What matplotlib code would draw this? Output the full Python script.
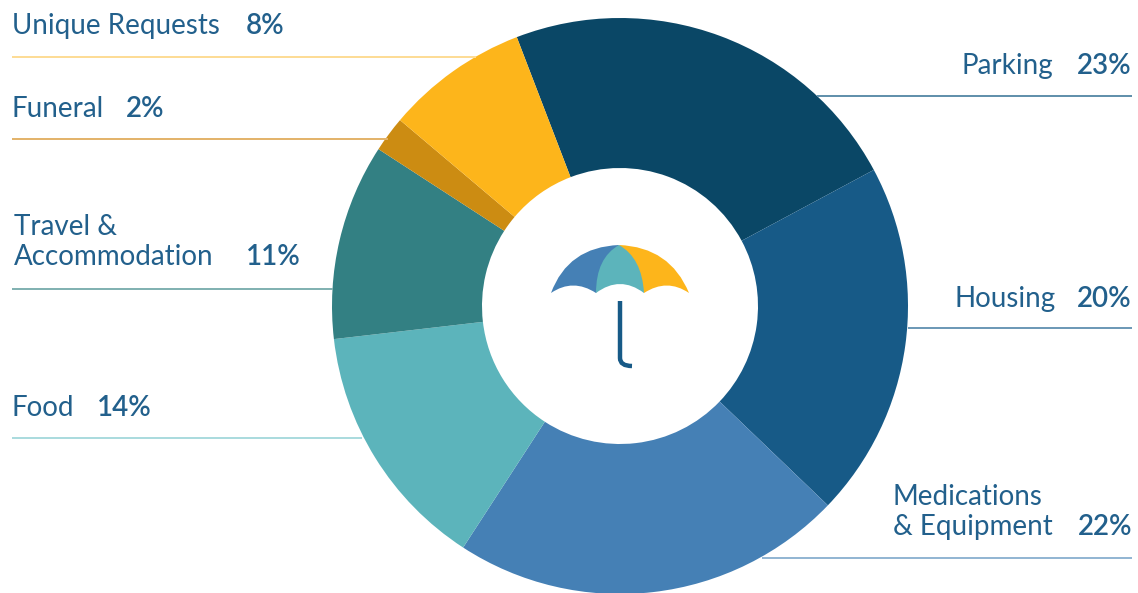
import matplotlib
matplotlib.use('Agg')
import matplotlib.pyplot as plt
from matplotlib.path import Path
from matplotlib.patches import PathPatch

categories = ['Parking', 'Housing', 'Medications\n& Equipment', 'Food',
              'Travel &\nAccommodation', 'Funeral', 'Unique Requests']
shares = [23, 20, 22, 14, 11, 2, 8]
colors = ['#0a4766', '#175a87', '#4580b5', '#5cb4bb', '#338083', '#cc8c12', '#fdb51b']
line_colors = ['#5e8eaa', '#6a97b5', '#90b4d2', '#a9dade', '#7fb0b0', '#e3b268', '#fddc94']

TEXT = '#22608c'
W, H = 1138, 593


def py(y):
    # picture rows count from the top
    return H - y


fig = plt.figure(figsize=(W / 100, H / 100), dpi=100)
ax = fig.add_axes([0, 0, 1, 1])

ax.pie(shares, colors=colors, startangle=111, counterclock=False,
       center=(620, py(306)), radius=288, frame=True,
       wedgeprops={'width': 150, 'linewidth': 0})

ax.set_xlim(0, W)
ax.set_ylim(0, H)
ax.set_aspect('equal')
ax.axis('off')

# leader lines
leaders = [(817, 1132, 96), (908, 1132, 328), (762, 1132, 558), (12, 362, 438),
           (12, 333, 289), (12, 388, 139), (12, 476, 57)]
for (x0, x1, y), c in zip(leaders, line_colors):
    ax.plot([x0, x1], [py(y), py(y)], color=c, lw=1.4, solid_capstyle='butt', zorder=1)

# labels
label_pos = [(1053, 74, 'right'), (1056, 307, 'right'), (893, 535, 'left'), (12, 416, 'left'),
             (14, 265, 'left'), (12, 117, 'left'), (12, 34, 'left')]
pct_pos = [(1132, 74, 'right'), (1132, 307, 'right'), (1132, 535, 'right'), (97, 416, 'left'),
           (246, 265, 'left'), (126, 117, 'left'), (246, 34, 'left')]
for name, share, lp, pp in zip(categories, shares, label_pos, pct_pos):
    ax.text(lp[0], py(lp[1]), name, ha=lp[2], va='baseline', fontsize=20, family='Lato',
            color=TEXT, linespacing=1.21)
    ax.text(pp[0], py(pp[1]), '{}%'.format(share), ha=pp[2], va='baseline', fontsize=20,
            family='Lato', color=TEXT, fontweight='semibold')


# umbrella in the middle
def shape(pts, codes, color):
    path = Path([(x, py(y)) for x, y in pts], codes)
    ax.add_patch(PathPatch(path, facecolor=color, edgecolor='none', zorder=3))


M, C, L = Path.MOVETO, Path.CURVE3, Path.LINETO
shape([(619, 245), (568, 247), (551, 293), (573, 278), (596, 293), (619, 245)],
      [M, C, C, C, C, L], '#4580b5')
shape([(619, 245), (670, 247), (689, 293), (667, 278), (644, 293), (619, 245)],
      [M, C, C, C, C, L], '#fdb51b')
shape([(619, 245), (596, 258), (596, 293), (620, 275), (644, 293), (642, 258), (619, 245)],
      [M, C, C, C, C, C, C], '#5cb4bb')
handle = Path([(620, py(301)), (620, py(358)), (620, py(366)), (632, py(366))], [M, L, C, C])
ax.add_patch(PathPatch(handle, facecolor='none', edgecolor='#175a87', lw=3.2, zorder=3))

fig.savefig('out.png', dpi=100)
